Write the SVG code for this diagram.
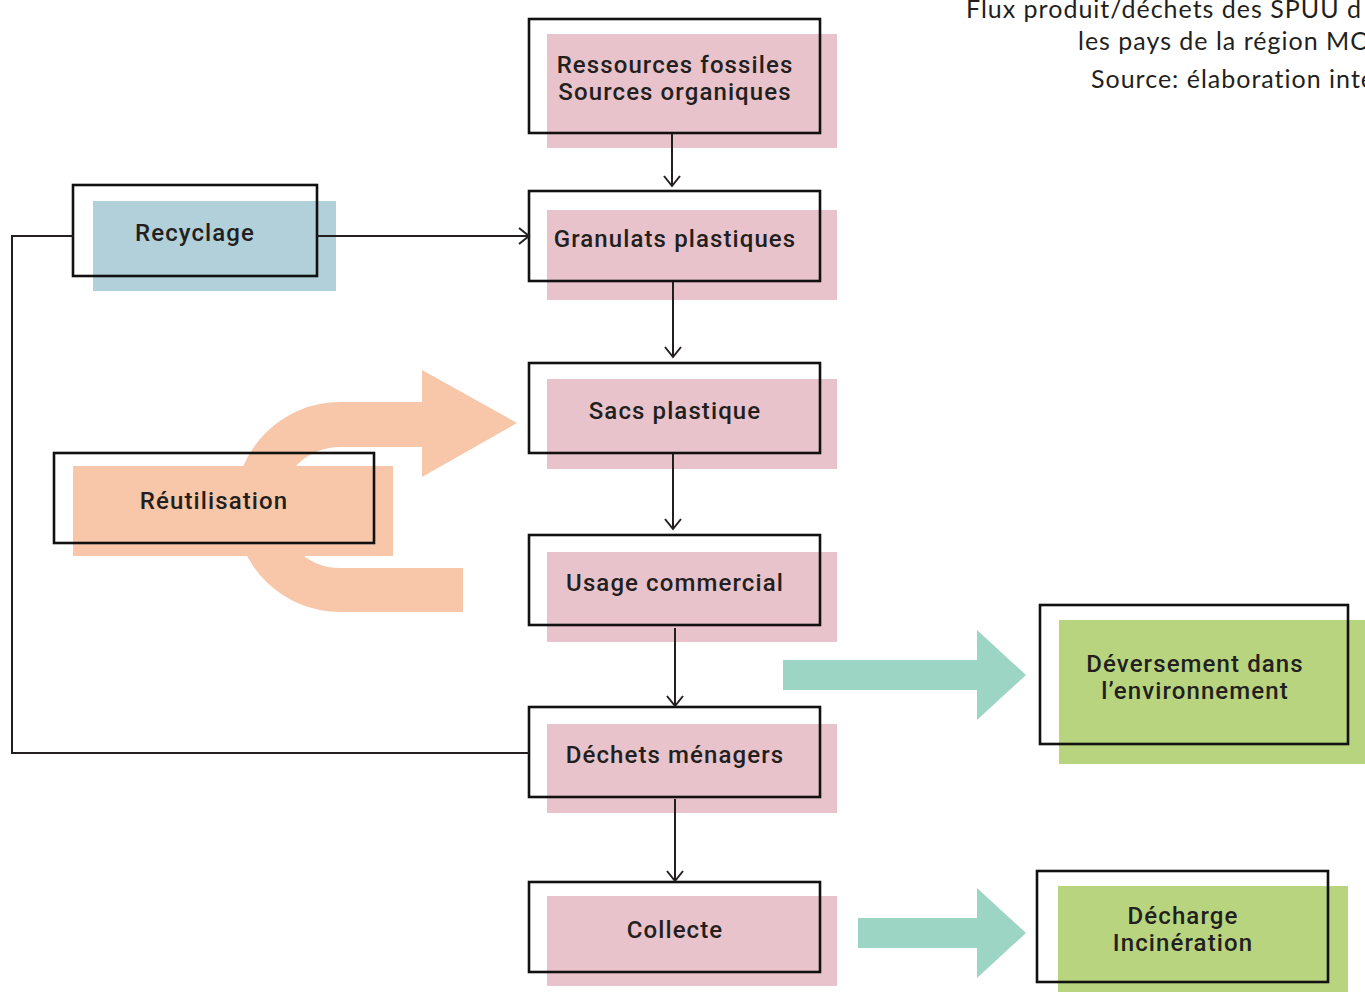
<svg xmlns="http://www.w3.org/2000/svg" width="1365" height="992" viewBox="0 0 1365 992">
<defs>
<style>
.frame{fill:none;stroke:#111;stroke-width:2.6}
.pink{fill:#E8C3CB}
.blue{fill:#B1D0D9}
.orange{fill:#F8C6A8}
.green{fill:#B8D47F}
.teal{fill:#9DD5C5}
.lbl{font-family:Roboto,"DejaVu Sans",sans-serif;font-size:24px;font-weight:500;fill:#231F20;text-anchor:middle;letter-spacing:1.1px}
.title{font-family:Lato,"Open Sans",sans-serif;font-size:25px;fill:#231F20;letter-spacing:1px}
.conn{fill:none;stroke:#231F20;stroke-width:2}
</style>
<marker id="arr" viewBox="0 0 20 20" refX="18" refY="10" markerWidth="20" markerHeight="20" markerUnits="userSpaceOnUse" orient="auto">
<path d="M8 2 L18 10 L8 18" fill="none" stroke="#231F20" stroke-width="2"/>
</marker>
</defs>
<rect width="1365" height="992" fill="#fff"/>

<g id="title">
<text class="title" x="966" y="18">Flux produit/déchets des SPUU d</text>
<text class="title" x="1078" y="50">les pays de la région MO</text>
<text class="title" x="1091" y="88">Source: élaboration inte</text>
</g>

<g id="reuse-arrow">
<path class="orange" d="M340 402 L422 402 L422 370 L517 423 L422 477 L422 447 L340 447 A60.5 60.5 0 0 0 340 568 L463 568 L463 612 L340 612 A105 105 0 0 1 340 402 Z"/>
</g>

<g id="teal-arrows">
<path class="teal" d="M783 660 L977 660 L977 630 L1026 675 L977 720 L977 690 L783 690 Z"/>
<path class="teal" d="M858 918 L977 918 L977 888 L1026 933 L977 978 L977 948 L858 948 Z"/>
</g>

<g id="n-ressources">
<rect class="pink" x="547" y="34" width="290" height="114"/>
<rect class="frame" x="529" y="19" width="291" height="114"/>
<text class="lbl" x="675" y="73">Ressources fossiles</text>
<text class="lbl" x="675" y="100">Sources organiques</text>
</g>
<g id="n-granulats">
<rect class="pink" x="547" y="210" width="290" height="90"/>
<rect class="frame" x="529" y="191" width="291" height="90"/>
<text class="lbl" x="675" y="247">Granulats plastiques</text>
</g>
<g id="n-sacs">
<rect class="pink" x="547" y="379" width="290" height="90"/>
<rect class="frame" x="529" y="363" width="291" height="90"/>
<text class="lbl" x="675" y="419">Sacs plastique</text>
</g>
<g id="n-usage">
<rect class="pink" x="547" y="552" width="290" height="90"/>
<rect class="frame" x="529" y="535" width="291" height="90"/>
<text class="lbl" x="675" y="591">Usage commercial</text>
</g>
<g id="n-dechets">
<rect class="pink" x="547" y="724" width="290" height="89"/>
<rect class="frame" x="529" y="707" width="291" height="90"/>
<text class="lbl" x="675" y="763">Déchets ménagers</text>
</g>
<g id="n-collecte">
<rect class="pink" x="547" y="896" width="290" height="90"/>
<rect class="frame" x="529" y="882" width="291" height="90"/>
<text class="lbl" x="675" y="938">Collecte</text>
</g>
<g id="n-recyclage">
<rect class="blue" x="93" y="201" width="243" height="90"/>
<rect class="frame" x="73" y="185" width="244" height="91"/>
<text class="lbl" x="195" y="241">Recyclage</text>
</g>
<g id="n-reutilisation">
<rect class="orange" x="73" y="466" width="320" height="90"/>
<rect class="frame" x="54" y="453" width="320" height="90"/>
<text class="lbl" x="214" y="509">Réutilisation</text>
</g>
<g id="n-deversement">
<rect class="green" x="1059" y="620" width="306" height="144"/>
<rect class="frame" x="1040" y="605" width="308" height="139"/>
<text class="lbl" x="1195" y="672">Déversement dans</text>
<text class="lbl" x="1195" y="699">l’environnement</text>
</g>
<g id="n-decharge">
<rect class="green" x="1058" y="886" width="290" height="106"/>
<rect class="frame" x="1037" y="871" width="291" height="111"/>
<text class="lbl" x="1183" y="924">Décharge</text>
<text class="lbl" x="1183" y="951">Incinération</text>
</g>

<g id="connectors">
<line class="conn" x1="672" y1="134" x2="672" y2="186" marker-end="url(#arr)"/>
<line class="conn" x1="673" y1="282" x2="673" y2="357" marker-end="url(#arr)"/>
<line class="conn" x1="673" y1="454" x2="673" y2="529" marker-end="url(#arr)"/>
<line class="conn" x1="675" y1="628" x2="675" y2="706" marker-end="url(#arr)"/>
<line class="conn" x1="675" y1="799" x2="675" y2="881" marker-end="url(#arr)"/>
<line class="conn" x1="317" y1="236" x2="529" y2="236" marker-end="url(#arr)"/>
<polyline class="conn" points="529,753 12,753 12,236 73,236"/>
</g>
</svg>
